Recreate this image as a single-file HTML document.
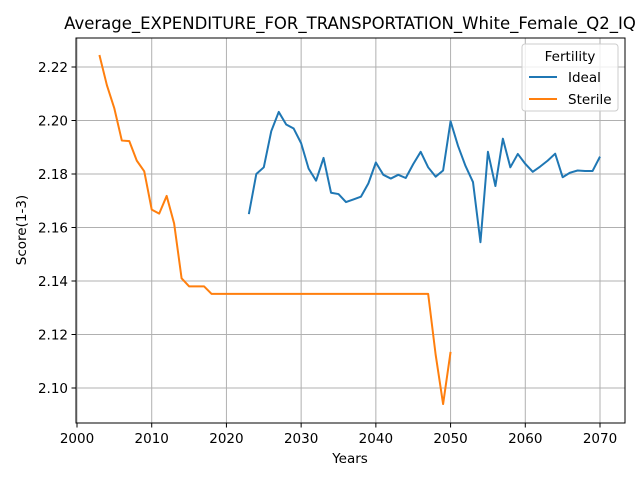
<!DOCTYPE html>
<html><head><meta charset="utf-8"><style>
body{margin:0;background:#fff;}
svg text{font-family:"DejaVu Sans","Liberation Sans",sans-serif;}
</style></head><body>
<svg id="c" width="640" height="480"></svg>
<script>
const idealYears=[];for(let y=2023;y<=2070;y++)idealYears.push(y);
const idealValues=[2.165,2.180,2.1825,2.196,2.2032,2.1985,2.197,2.1915,2.182,2.1775,2.186,2.173,2.1725,2.1695,2.1705,2.1715,2.1765,2.1843,2.1797,2.1783,2.1797,2.1785,2.1837,2.1883,2.1825,2.179,2.1813,2.1997,2.1905,2.183,2.177,2.1545,2.1883,2.1755,2.1932,2.1825,2.1875,2.1838,2.1808,2.1828,2.185,2.1876,2.1788,2.1805,2.1813,2.1811,2.1811,2.1865];
const sterileYears=[];for(let y=2003;y<=2050;y++)sterileYears.push(y);
const sterileValues=[2.2245,2.2132,2.2045,2.1925,2.1923,2.185,2.181,2.1667,2.1652,2.1718,2.1615,2.141,2.138,2.138,2.138,2.1352,2.1352,2.1352,2.1352,2.1352,2.1352,2.1352,2.1352,2.1352,2.1352,2.1352,2.1352,2.1352,2.1352,2.1352,2.1352,2.1352,2.1352,2.1352,2.1352,2.1352,2.1352,2.1352,2.1352,2.1352,2.1352,2.1352,2.1352,2.1352,2.1352,2.1125,2.094,2.1135];
const xTicks=[2000,2010,2020,2030,2040,2050,2060,2070];
const yTicks=[2.10,2.12,2.14,2.16,2.18,2.20,2.22];
const L=76,R=625,T=38,B=423;
const x=v=>77+(v-2000)*523/70;
const y=v=>388-(v-2.10)*2675;
const s=document.getElementById('c');const NS='http://www.w3.org/2000/svg';
function mk(t,a,txt){const e=document.createElementNS(NS,t);for(const k in a)e.setAttribute(k,a[k]);if(txt!==undefined)e.textContent=txt;s.appendChild(e);return e;}
xTicks.forEach(t=>{const X=x(t);
const g=mk('line',{x1:X,x2:X,y1:T,y2:B,stroke:'#b0b0b0','stroke-width':1});

mk('line',{x1:X,x2:X,y1:B,y2:B+4.5,stroke:'#000','stroke-width':1});
const l=mk('text',{x:X,y:B+20,'font-size':13.5,'text-anchor':'middle'},t);
});
yTicks.forEach(t=>{const Y=y(t);
const g=mk('line',{x1:L,x2:R,y1:Y,y2:Y,stroke:'#b0b0b0','stroke-width':1});

mk('line',{x1:L-4.5,x2:L,y1:Y,y2:Y,stroke:'#000','stroke-width':1});
const l=mk('text',{x:L-8,y:Y+5,'font-size':13.5,'text-anchor':'end'},t.toFixed(2));
});
function line(xs,vs,c,n){const p=mk('polyline',{points:xs.map((v,i)=>x(v)+','+y(vs[i])).join(' '),fill:'none',stroke:c,'stroke-width':2,'stroke-linejoin':'round'});
}
line(idealYears,idealValues,'#1f77b4','ideal-line');
line(sterileYears,sterileValues,'#ff7f0e','sterile-line');
const f=mk('rect',{x:L,y:T,width:R-L,height:B-T,fill:'none',stroke:'#000','stroke-width':1});

const ti=mk('text',{x:350,y:29,'font-size':16.5,'text-anchor':'middle'},'Average_EXPENDITURE_FOR_TRANSPORTATION_White_Female_Q2_IQ');

const xt=mk('text',{x:350,y:463,'font-size':13.5,'text-anchor':'middle'},'Years');

const yt=mk('text',{x:26,y:230,'font-size':13.5,'text-anchor':'middle',transform:'rotate(-90 26 230)'},'Score(1-3)');

const lg=mk('rect',{x:522,y:44,width:96,height:67,rx:3,fill:'#fff','fill-opacity':0.8,stroke:'#ccc','stroke-width':1});

const lt=mk('text',{x:570,y:61,'font-size':13.5,'text-anchor':'middle'},'Fertility');

[['Ideal','#1f77b4',82],['Sterile','#ff7f0e',104]].forEach(([n,c,Y])=>{
mk('line',{x1:529,x2:557,y1:Y-5,y2:Y-5,stroke:c,'stroke-width':2});
const t=mk('text',{x:568,y:Y,'font-size':13.5},n);
});
</script>
</body></html>
